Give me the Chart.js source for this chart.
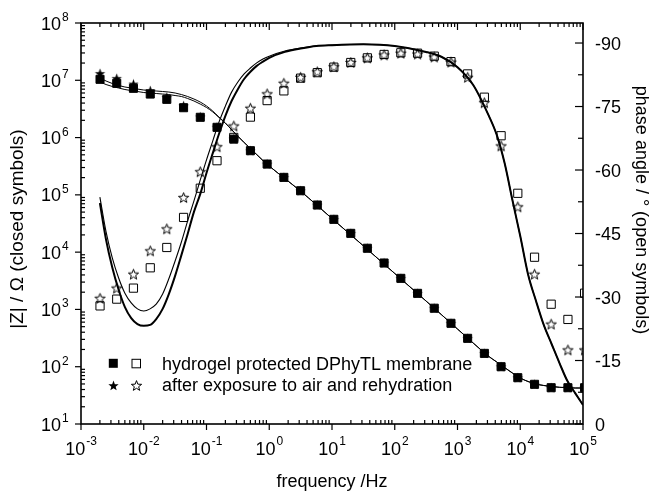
<!DOCTYPE html>
<html><head><meta charset="utf-8">
<script src="https://cdn.jsdelivr.net/npm/chart.js@4/dist/chart.umd.min.js"></script>
<style>html,body{margin:0;padding:0;background:#fff;}#wrap{width:653px;height:491px;}</style>
</head><body><div id="wrap"><canvas id="c" width="653" height="491"></canvas></div>
<script>
// ---- measured data (frequency in Hz) ----
const freq = [0.00201, 0.00371, 0.00685, 0.0127, 0.0233, 0.0431, 0.0796, 0.147, 0.272, 0.501, 0.925, 1.71, 3.16, 5.83, 10.7, 19.9, 36.6, 67.6, 125, 231, 426, 787, 1450, 2680, 4950, 9140, 16900, 31100, 57500, 106000];
const zHydrogel = [1.04e7, 8.85e6, 7.24e6, 5.75e6, 4.65e6, 3.32e6, 2.26e6, 1.51e6, 9.4e5, 5.9e5, 3.45e5, 2.02e5, 1.18e5, 6.65e4, 3.74e4, 2.13e4, 1.17e4, 6460, 3490, 1910, 1050, 573, 313, 171, 100, 64.3, 49.3, 43, 43, 43];
const zAir = [1.32e7, 1.08e7, 8.6e6, 6.6e6, 5.05e6, 3.6e6, 2.3e6, 1.52e6, 9.5e5, 5.9e5, 3.45e5, 2.02e5, 1.18e5, 6.65e4, 3.74e4, 2.13e4, 1.17e4, 6460, 3490, 1910, 1050, 573, 313, 171, 100, 64.3, 49.3, 43, 43, 43];
const phHydrogel = [-27.9, -29.5, -32.1, -36.9, -41.7, -48.8, -55.7, -62.2, -67.7, -72.5, -76.4, -78.7, -81.7, -83.0, -84.3, -85.4, -86.5, -87.3, -87.7, -87.6, -86.9, -85.6, -82.7, -77.2, -68.1, -54.5, -39.4, -28.3, -24.7, -30.9];
const phAir = [-29.7, -32.1, -35.4, -40.9, -46.1, -53.5, -59.6, -65.5, -70.4, -74.6, -78.0, -80.5, -81.9, -83.2, -84.4, -85.4, -86.5, -87.2, -87.6, -87.4, -86.7, -85.5, -81.9, -75.9, -65.7, -51.3, -35.4, -23.6, -17.5, -17.5];

// ---- fitted curves ----
const fitFreq = [0.002, 0.00251, 0.00316, 0.00398, 0.00501, 0.00631, 0.00794, 0.01, 0.0126, 0.0158, 0.02, 0.0251, 0.0316, 0.0398, 0.0501, 0.0631, 0.0794, 0.1, 0.126, 0.158, 0.2, 0.251, 0.316, 0.398, 0.501, 0.631, 0.794, 1, 1.78, 3.16, 5.62, 10, 31.6, 100, 316, 562, 1000, 1780, 3160, 4220, 5620, 7500, 10000, 13300, 17800, 23700, 31600, 42200, 56200, 75000, 100000];
const fitZAir = [1.094e7, 9.71e6, 8.78e6, 8.11e6, 7.63e6, 7.33e6, 7.03e6, 6.76e6, 6.62e6, 6.50e6, 6.37e6, 6.24e6, 6.0e6, 5.64e6, 5.21e6, 4.71e6, 4.17e6, 3.56e6, 2.90e6, 2.28e6, 1.80e6, 1.38e6, 1.06e6, 8.2e5, 6.44e5, 5.06e5, 3.97e5, 3.18e5, 1.92e5, 1.16e5, 6.73e4, 3.86e4, 1.29e4, 4240, 1400, 800, 455, 259, 151, 121, 96.8, 77.6, 63.5, 55.2, 49.9, 47.0, 45.2, 43.7, 43.0, 42.5, 42.5];
const fitZHydrogel = [9.33e6, 8.43e6, 7.79e6, 7.33e6, 6.90e6, 6.62e6, 6.37e6, 6.11e6, 6.0e6, 5.88e6, 5.75e6, 5.64e6, 5.42e6, 5.21e6, 4.81e6, 4.35e6, 3.85e6, 3.35e6, 2.80e6, 2.24e6, 1.78e6, 1.37e6, 1.05e6, 8.2e5, 6.44e5, 5.06e5, 3.97e5, 3.18e5, 1.92e5, 1.16e5, 6.73e4, 3.86e4, 1.29e4, 4240, 1400, 800, 455, 259, 151, 121, 96.8, 77.6, 63.5, 55.2, 49.9, 47.0, 45.2, 43.7, 43.0, 42.5, 42.5];
const fitPhThin = [-53.6, -45.4, -39.2, -34.5, -30.9, -28.6, -27.2, -26.7, -27.2, -28.3, -30.7, -34.3, -38.5, -43.0, -48.0, -52.7, -57.6, -62.4, -66.9, -71.3, -75.1, -78.4, -80.8, -82.7, -84.1, -85.3, -86.2, -86.9, -88.1, -88.8, -89.3, -89.5, -89.7, -89.3, -87.9, -86.7, -84.3, -80.1, -72.8, -68.3, -61.7, -52.9, -44.4, -35.4, -29.1, -23.4, -18.9, -14.4, -10.2, -7.3, -4.5];
const fitPhThick = [-52.2, -43.5, -36.9, -31.7, -27.6, -25.0, -23.6, -23.2, -23.4, -24.8, -27.2, -30.7, -35.0, -39.9, -44.9, -50.1, -54.3, -59.3, -64.0, -68.5, -72.8, -76.3, -79.1, -81.5, -83.2, -84.6, -85.6, -86.5, -87.9, -88.7, -89.3, -89.5, -89.7, -89.3, -87.9, -86.7, -84.3, -80.1, -72.8, -68.3, -61.7, -52.9, -44.4, -35.4, -29.1, -23.4, -18.9, -14.4, -10.2, -7.3, -4.5];

// ---- axis ticks and texts ----
const xTickExp = [-3, -2, -1, 0, 1, 2, 3, 4, 5];
const yTickExp = [1, 2, 3, 4, 5, 6, 7, 8];
const phaseTicks = [0, -15, -30, -45, -60, -75, -90];
const phaseMinor = [-7.5, -22.5, -37.5, -52.5, -67.5, -82.5];
const legendLabels = ['hydrogel protected DPhyTL membrane', 'after exposure to air and rehydration'];
const xTitle = 'frequency /Hz';
const yTitle = '|Z| / Ω (closed symbols)';
const y2Title = 'phase angle / ° (open symbols)';

const FONT = "'Liberation Sans', Arimo, Arial, Helvetica, sans-serif";

function starImage(filled) {
  const s = 13;
  const c = document.createElement('canvas');
  c.width = s; c.height = s;
  const g = c.getContext('2d');
  const cx = s / 2, cy = s / 2 + 0.5, R = 5.4, r = R * 0.42;
  g.beginPath();
  for (let k = 0; k < 10; k++) {
    const ang = -Math.PI / 2 + k * Math.PI / 5;
    const rad = k % 2 === 0 ? R : r;
    g.lineTo(cx + rad * Math.cos(ang), cy + rad * Math.sin(ang));
  }
  g.closePath();
  if (filled) { g.fillStyle = '#000'; g.fill(); }
  else { g.lineWidth = 1; g.strokeStyle = '#000'; g.stroke(); }
  return c;
}
const starFilled = starImage(true);
const starOpen = starImage(false);

const pts = (xs, ys) => xs.map((x, i) => ({ x: x, y: ys[i] }));

const decoPlugin = {
  id: 'deco',
  afterDatasetsDraw(chart) {
    const { ctx, chartArea: a } = chart;
    const sx = chart.scales.x, sy = chart.scales.y, sp = chart.scales.y2;
    const line = (x1, y1, x2, y2) => { ctx.beginPath(); ctx.moveTo(x1, y1); ctx.lineTo(x2, y2); ctx.stroke(); };
    ctx.save();
    ctx.strokeStyle = '#000';
    ctx.lineWidth = 1.2;
    for (let i = 0; i < xTickExp.length; i++) {
      const e = xTickExp[i];
      const px = sx.getPixelForValue(Math.pow(10, e));
      line(px, a.bottom, px, a.bottom + 6);
      line(px, a.top, px, a.top + 7);
      if (i < xTickExp.length - 1) {
        for (let m = 2; m <= 9; m++) {
          const mx = sx.getPixelForValue(m * Math.pow(10, e));
          line(mx, a.bottom, mx, a.bottom - 4);
          line(mx, a.top, mx, a.top + 4);
        }
      }
    }
    for (let i = 0; i < yTickExp.length; i++) {
      const e = yTickExp[i];
      const py = sy.getPixelForValue(Math.pow(10, e));
      line(a.left, py, a.left - 6, py);
      if (i < yTickExp.length - 1) {
        for (let m = 2; m <= 9; m++) {
          const my = sy.getPixelForValue(m * Math.pow(10, e));
          line(a.left, my, a.left + 4, my);
        }
      }
    }
    phaseTicks.forEach(v => { const py = sp.getPixelForValue(v); line(a.right, py, a.right - 8, py); });
    phaseMinor.forEach(v => { const py = sp.getPixelForValue(v); line(a.right, py, a.right - 5, py); });
    ctx.lineWidth = 1.6;
    ctx.strokeRect(a.left, a.top, a.right - a.left, a.bottom - a.top);

    ctx.fillStyle = '#000';
    const big = '18px ' + FONT, small = '12px ' + FONT;
    ctx.textBaseline = 'alphabetic';
    xTickExp.forEach(e => {
      const px = sx.getPixelForValue(Math.pow(10, e));
      const es = String(e);
      ctx.font = big; const w1 = ctx.measureText('10').width;
      ctx.font = small; const w2 = ctx.measureText(es).width;
      const x0 = px - (w1 + 1 + w2) / 2;
      ctx.font = big; ctx.textAlign = 'left'; ctx.fillText('10', x0, 455);
      ctx.font = small; ctx.fillText(es, x0 + w1 + 1, 445);
    });
    yTickExp.forEach(e => {
      const py = sy.getPixelForValue(Math.pow(10, e));
      ctx.font = big; ctx.textAlign = 'right'; ctx.fillText('10', 61, py + 6.5);
      ctx.font = small; ctx.textAlign = 'left'; ctx.fillText(String(e), 62, py - 2);
    });
    ctx.font = big; ctx.textAlign = 'left';
    phaseTicks.forEach(v => {
      const py = sp.getPixelForValue(v);
      ctx.fillText(String(v), 595, py + 6.5);
    });

    // axis titles
    ctx.textAlign = 'center'; ctx.textBaseline = 'middle';
    ctx.font = big;
    ctx.fillText(xTitle, (a.left + a.right) / 2, 482);
    ctx.save(); ctx.translate(18, 229); ctx.rotate(-Math.PI / 2);
    ctx.font = '19px ' + FONT; ctx.fillText(yTitle, 0, 0); ctx.restore();
    ctx.save(); ctx.translate(641, 210); ctx.rotate(Math.PI / 2);
    ctx.font = big; ctx.fillText(y2Title, 0, 0); ctx.restore();

    // legend
    ctx.textBaseline = 'alphabetic'; ctx.textAlign = 'left';
    const rows = [363.3, 385];
    ctx.fillRect(113.3 - 4.5, rows[0] - 4.5, 9, 9);
    ctx.lineWidth = 1;
    ctx.strokeRect(136 - 4, rows[0] - 4, 8.5, 8.5);
    ctx.drawImage(starFilled, Math.round(113.3 - 6.5), Math.round(rows[1] - 6.5));
    ctx.drawImage(starOpen, Math.round(136 - 6.5), Math.round(rows[1] - 6.5));
    ctx.font = big;
    ctx.fillText(legendLabels[0], 162, 369.5);
    ctx.fillText(legendLabels[1], 162, 391);
    ctx.restore();
  }
};

const base = { showLine: false, clip: 0 };
new Chart(document.getElementById('c'), {
  type: 'scatter',
  data: {
    datasets: [
      Object.assign({}, base, { label: 'hydrogel |Z|', data: pts(freq, zHydrogel), yAxisID: 'y', pointStyle: 'rect', pointRadius: 5.7, backgroundColor: '#000', borderColor: '#000', borderWidth: 1, order: 1 }),
      Object.assign({}, base, { label: 'air |Z|', data: pts(freq, zAir), yAxisID: 'y', pointStyle: starFilled, pointRadius: 6, order: 2 }),
      Object.assign({}, base, { label: 'hydrogel phase', data: pts(freq, phHydrogel), yAxisID: 'y2', pointStyle: 'rect', pointRadius: 5.8, backgroundColor: 'rgba(0,0,0,0)', borderColor: '#000', borderWidth: 1, order: 3 }),
      Object.assign({}, base, { label: 'air phase', data: pts(freq, phAir), yAxisID: 'y2', pointStyle: starOpen, pointRadius: 6, order: 4 }),
      { label: 'fit |Z| air', data: pts(fitFreq, fitZAir), yAxisID: 'y', showLine: true, pointRadius: 0, borderColor: '#000', borderWidth: 1, cubicInterpolationMode: 'monotone', order: 5 },
      { label: 'fit |Z| hydrogel', data: pts(fitFreq, fitZHydrogel), yAxisID: 'y', showLine: true, pointRadius: 0, borderColor: '#000', borderWidth: 1, cubicInterpolationMode: 'monotone', order: 6 },
      { label: 'fit phase thin', data: pts(fitFreq, fitPhThin), yAxisID: 'y2', showLine: true, pointRadius: 0, borderColor: '#000', borderWidth: 1.1, cubicInterpolationMode: 'monotone', order: 7 },
      { label: 'fit phase thick', data: pts(fitFreq, fitPhThick), yAxisID: 'y2', showLine: true, pointRadius: 0, borderColor: '#000', borderWidth: 2, cubicInterpolationMode: 'monotone', order: 8 }
    ]
  },
  options: {
    responsive: false,
    animation: false,
    events: [],
    layout: { padding: { top: 23, left: 0, right: 0, bottom: 0 } },
    plugins: { legend: { display: false }, tooltip: { enabled: false } },
    scales: {
      x: {
        type: 'logarithmic', min: 1e-3, max: 1e5,
        grid: { display: false }, border: { display: false }, ticks: { display: false },
        title: { display: false },
        afterFit(s) { s.height = 67; }
      },
      y: {
        type: 'logarithmic', position: 'left', min: 10, max: 1e8,
        grid: { display: false }, border: { display: false }, ticks: { display: false },
        title: { display: false },
        afterFit(s) { s.width = 81; }
      },
      y2: {
        type: 'linear', position: 'right', min: -94.73, max: 0, reverse: true,
        grid: { display: false }, border: { display: false }, ticks: { display: false },
        title: { display: false },
        afterFit(s) { s.width = 70; }
      }
    }
  },
  plugins: [decoPlugin]
});
</script>
</body></html>
